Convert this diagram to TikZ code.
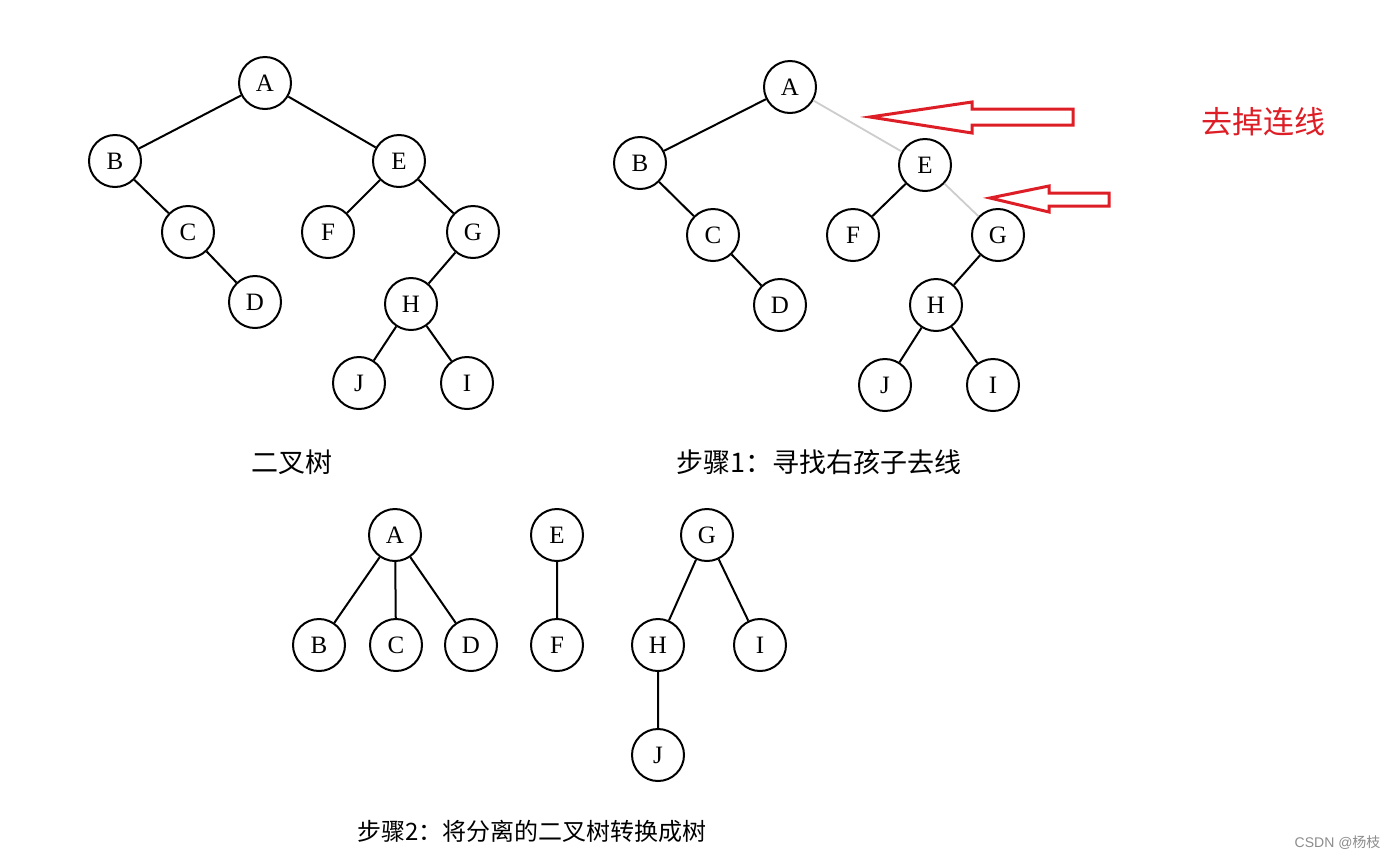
\documentclass[tikz,border=0pt]{standalone}
\usepackage{fontspec}
\setmainfont{Liberation Serif}
\newfontfamily\cjk{Noto Sans CJK SC}
\newfontfamily\wm{Liberation Sans}
\definecolor{annred}{RGB}{222,30,38}
\definecolor{faint}{RGB}{205,205,205}
\begin{document}
\begin{tikzpicture}[x=1pt,y=-1pt,
  tn/.style={circle,draw=black,line width=2pt,minimum size=52pt,inner sep=0pt,
    font=\fontsize{25}{25}\selectfont},
  edge/.style={line width=2pt,black},
  gone/.style={line width=1.8pt,faint},
  captxt/.style={font=\cjk\fontsize{27}{27}\selectfont,text=black},
  arr/.style={draw=annred,line width=3pt,line join=miter}]
\useasboundingbox (0,0) rectangle (1400,863);
\fill[white] (0,0) rectangle (1400,863);
% ---------- tree 1: binary tree
\node[tn] (A1) at (265,83) {A};
\node[tn] (B1) at (115,161) {B};
\node[tn] (E1) at (399,161) {E};
\node[tn] (C1) at (188,232) {C};
\node[tn] (F1) at (328,232) {F};
\node[tn] (G1) at (473,232) {G};
\node[tn] (D1) at (255,302) {D};
\node[tn] (H1) at (411,304) {H};
\node[tn] (J1) at (359,383) {J};
\node[tn] (I1) at (467,383) {I};
\draw[edge] (A1)--(B1) (A1)--(E1) (B1)--(C1) (C1)--(D1) (E1)--(F1) (E1)--(G1) (G1)--(H1) (H1)--(J1) (H1)--(I1);
\node[captxt] (cap1) at (292,462) {二叉树};
% ---------- tree 2: step 1
\node[tn] (A2) at (790,87) {A};
\node[tn] (B2) at (640,163) {B};
\node[tn] (E2) at (925,165) {E};
\node[tn] (C2) at (713,235) {C};
\node[tn] (F2) at (853,235) {F};
\node[tn] (G2) at (998,235) {G};
\node[tn] (D2) at (780,305) {D};
\node[tn] (H2) at (936,305) {H};
\node[tn] (J2) at (885,385) {J};
\node[tn] (I2) at (993,385) {I};
\draw[edge] (A2)--(B2) (B2)--(C2) (C2)--(D2) (E2)--(F2) (G2)--(H2) (H2)--(J2) (H2)--(I2);
\draw[gone] (A2)--(E2) (E2)--(G2);
\node[captxt] (cap2) at (819,462) {步骤1：寻找右孩子去线};
% red arrows and note
\draw[arr] (870,117) -- (972,102) -- (972,109) -- (1073,109) -- (1073,125) -- (972,125) -- (972,133) -- cycle;
\draw[arr] (990,198) -- (1049,186) -- (1049,193) -- (1109,193) -- (1109,206) -- (1049,206) -- (1049,212) -- cycle;
\node[font=\cjk\fontsize{31}{31}\selectfont,text=annred] (note) at (1263,122) {去掉连线};
% ---------- tree 3: step 2
\node[tn] (A3) at (395,535) {A};
\node[tn] (B3) at (319,645) {B};
\node[tn] (C3) at (396,645) {C};
\node[tn] (D3) at (471,645) {D};
\node[tn] (E3) at (557,535) {E};
\node[tn] (F3) at (557,645) {F};
\node[tn] (G3) at (707,535) {G};
\node[tn] (H3) at (658,645) {H};
\node[tn] (I3) at (760,645) {I};
\node[tn] (J3) at (658,755) {J};
\draw[edge] (A3)--(B3) (A3)--(C3) (A3)--(D3) (E3)--(F3) (G3)--(H3) (G3)--(I3) (H3)--(J3);
\node[captxt,font=\cjk\fontsize{24}{24}\selectfont,anchor=west] (cap3) at (354,831) {步骤2：将分离的二叉树转换成树};
% watermark
\node[font=\wm\fontsize{14}{14}\selectfont,text=black!45,anchor=east] (wmk) at (1384,843) {CSDN @{\cjk 杨枝}};
\end{tikzpicture}
\end{document}
